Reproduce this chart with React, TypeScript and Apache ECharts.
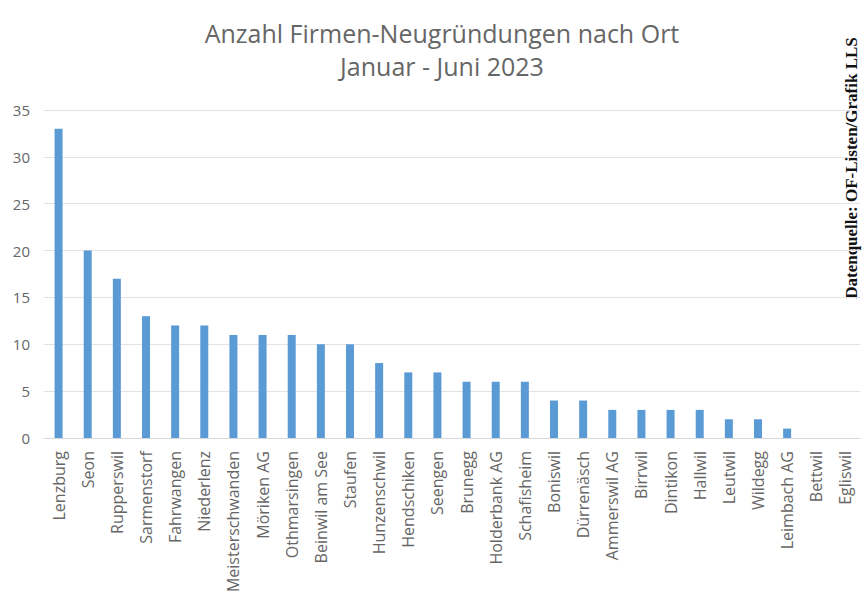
import React, { useEffect, useRef } from "react";
import * as echarts from "echarts";

const places = [
  "Lenzburg", "Seon", "Rupperswil", "Sarmenstorf", "Fahrwangen", "Niederlenz",
  "Meisterschwanden", "Möriken AG", "Othmarsingen", "Beinwil am See", "Staufen",
  "Hunzenschwil", "Hendschiken", "Seengen", "Brunegg", "Holderbank AG", "Schafisheim",
  "Boniswil", "Dürrenäsch", "Ammerswil AG", "Birrwil", "Dintikon", "Hallwil",
  "Leutwil", "Wildegg", "Leimbach AG", "Bettwil", "Egliswil",
];
const counts = [33, 20, 17, 13, 12, 12, 11, 11, 11, 10, 10, 8, 7, 7, 6, 6, 6, 4, 4, 3, 3, 3, 3, 2, 2, 1, 0, 0];
const titleLines = ["Anzahl Firmen-Neugründungen nach Ort", "Januar - Juni 2023"];
const sourceNote = "Datenquelle: OF-Listen/Grafik LLS";

export default function App() {
  const ref = useRef<HTMLDivElement>(null);
  useEffect(() => {
    if (!ref.current) return;
    const chart = echarts.init(ref.current, undefined, { renderer: "svg" });
    chart.setOption({
      animation: false,
      backgroundColor: "#ffffff",
      title: {
        text: titleLines.join("\n"),
        left: 437,
        top: 11,
        textAlign: "center",
        textStyle: {
          fontFamily: "Open Sans",
          fontSize: 25,
          fontWeight: "normal",
          color: "#666666",
          lineHeight: 33,
        },
      },
      grid: { left: 44, right: 6, top: 110, bottom: 167 },
      xAxis: {
        type: "category",
        data: places,
        axisLine: { lineStyle: { color: "#d9d9d9" } },
        axisTick: { show: false },
        axisLabel: {
          rotate: 90,
          interval: 0,
          margin: 13,
          fontFamily: "Open Sans",
          fontSize: 16,
          color: "#666666",
        },
      },
      yAxis: {
        type: "value",
        min: 0,
        max: 35,
        interval: 5,
        axisLine: { show: false },
        axisTick: { show: false },
        splitLine: { lineStyle: { color: "#e3e3e3" } },
        axisLabel: {
          margin: 14,
          fontFamily: "Open Sans",
          fontSize: 15,
          color: "#666666",
        },
      },
      series: [
        {
          type: "bar",
          data: counts,
          barWidth: 8,
          itemStyle: { color: "#5b9bd5" },
        },
      ],
      graphic: [
        {
          type: "text",
          x: 851,
          y: 168,
          rotation: Math.PI / 2,
          style: {
            text: sourceNote,
            font: "bold 17px 'Liberation Serif'",
            fill: "#111111",
            align: "center",
            verticalAlign: "middle",
          },
        },
      ],
    });
    return () => chart.dispose();
  }, []);
  return (
    <div
      ref={ref}
      style={{ position: "fixed", left: 0, top: 0, width: 866, height: 605 }}
    />
  );
}
